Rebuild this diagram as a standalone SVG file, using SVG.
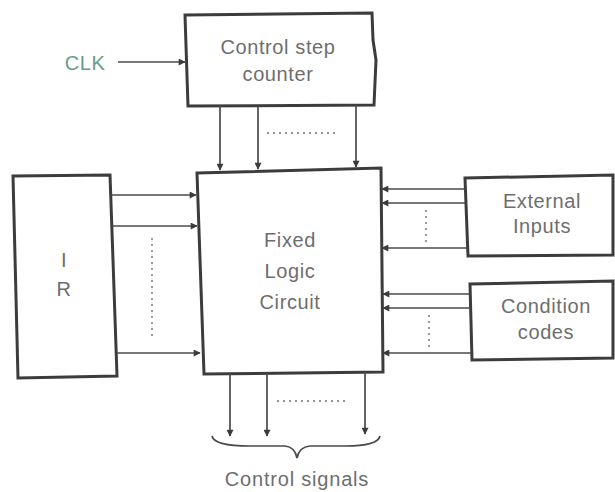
<svg xmlns="http://www.w3.org/2000/svg" width="615" height="492" viewBox="0 0 615 492">
<defs>
<style>
.box{fill:#ffffff;stroke:#3c3c3c;stroke-width:3}
.ln{fill:none;stroke:#4a4a4a;stroke-width:1.7}
.dot{fill:none;stroke:#707070;stroke-width:1.4;stroke-dasharray:2 4}
.t{font-family:"Liberation Sans",Arial,sans-serif;font-size:20px;fill:#6e6e6e;text-anchor:middle;letter-spacing:0.6px}
</style>
<marker id="ah" viewBox="0 0 10 10" refX="9" refY="5" markerWidth="9" markerHeight="7" orient="auto" markerUnits="userSpaceOnUse">
<path d="M0,0 L10,5 L0,10 Z" fill="#3c3c3c"/>
</marker>
</defs>
<rect width="615" height="492" fill="#ffffff"/>
<g id="clk"><text class="t" x="85" y="70" style="fill:#6a9a8c">CLK</text></g>
<g id="counter">
<path class="box" d="M185,15 L372,13 L373,40 L376,60 L374,105 L188,106 Z"/>
<text class="t" x="278" y="54">Control step</text>
<text class="t" x="278" y="81">counter</text>
</g>
<g id="ir">
<path class="box" d="M13,176 L110,175 L113,260 L117,376 L18,378 Z"/>
<text class="t" x="64" y="267">I</text>
<text class="t" x="64" y="296">R</text>
</g>
<g id="logic">
<path class="box" d="M197,173 L381,168 L383,372 L204,374 Z"/>
<text class="t" x="290" y="247">Fixed</text>
<text class="t" x="290" y="278">Logic</text>
<text class="t" x="290" y="309">Circuit</text>
</g>
<g id="external">
<path class="box" d="M465,178 L613,175 L613,255 L468,256 Z"/>
<text class="t" x="542" y="208">External</text>
<text class="t" x="542" y="233">Inputs</text>
</g>
<g id="condition">
<path class="box" d="M470,284 L613,281 L613,358 L472,360 Z"/>
<text class="t" x="546" y="313">Condition</text>
<text class="t" x="546" y="339">codes</text>
</g>
<g id="signals">
<path class="ln" d="M212,436 Q214,446 250,446 L285,446 Q295,447 297,458 Q299,447 310,446 L345,446 Q378,446 380,436"/>
<text class="t" x="297" y="486" style="letter-spacing:0.8px">Control signals</text>
</g>
<g id="connectors">
<line class="ln" x1="118" y1="62" x2="185" y2="62" marker-end="url(#ah)"/>
<line class="ln" x1="220" y1="106" x2="220" y2="170" marker-end="url(#ah)"/>
<line class="ln" x1="258" y1="106" x2="258" y2="169" marker-end="url(#ah)"/>
<line class="ln" x1="356" y1="105" x2="356" y2="167" marker-end="url(#ah)"/>
<line class="dot" x1="267" y1="133" x2="338" y2="133"/>
<line class="ln" x1="111" y1="195" x2="196" y2="195" marker-end="url(#ah)"/>
<line class="ln" x1="112" y1="226" x2="197" y2="226" marker-end="url(#ah)"/>
<line class="ln" x1="117" y1="353" x2="200" y2="353" marker-end="url(#ah)"/>
<line class="dot" x1="152" y1="238" x2="152" y2="336"/>
<line class="ln" x1="465" y1="189" x2="382" y2="189" marker-end="url(#ah)"/>
<line class="ln" x1="465" y1="203" x2="382" y2="203" marker-end="url(#ah)"/>
<line class="ln" x1="467" y1="248" x2="382" y2="248" marker-end="url(#ah)"/>
<line class="dot" x1="426" y1="210" x2="426" y2="242"/>
<line class="ln" x1="470" y1="294" x2="383" y2="294" marker-end="url(#ah)"/>
<line class="ln" x1="470" y1="308" x2="383" y2="308" marker-end="url(#ah)"/>
<line class="ln" x1="471" y1="353" x2="383" y2="353" marker-end="url(#ah)"/>
<line class="dot" x1="429" y1="315" x2="429" y2="348"/>
<line class="ln" x1="230" y1="374" x2="230" y2="436" marker-end="url(#ah)"/>
<line class="ln" x1="267" y1="373" x2="267" y2="436" marker-end="url(#ah)"/>
<line class="ln" x1="365" y1="372" x2="365" y2="434" marker-end="url(#ah)"/>
<line class="dot" x1="277" y1="401" x2="347" y2="401"/>
</g>
</svg>
